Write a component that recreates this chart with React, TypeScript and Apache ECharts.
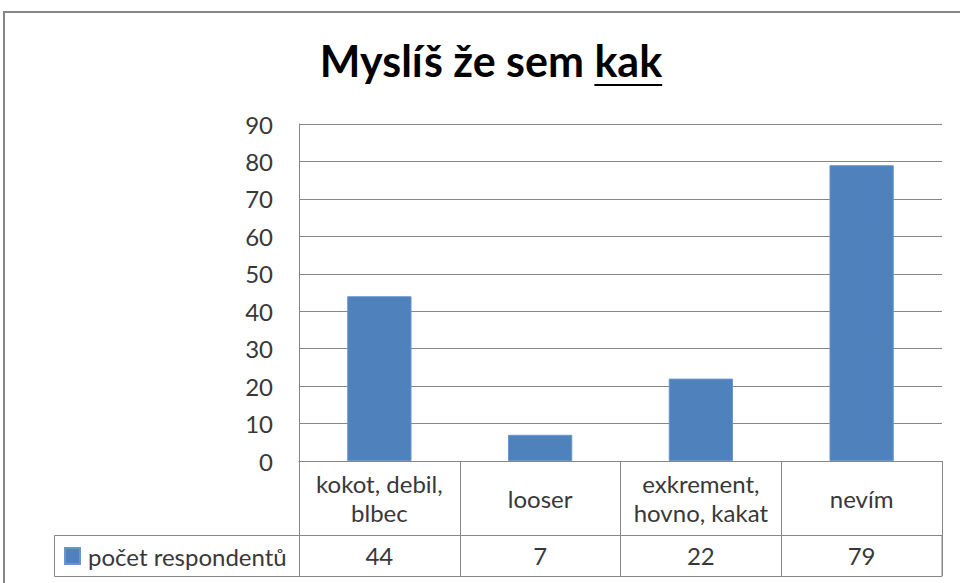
import React, { useEffect, useRef } from "react";
import * as echarts from "echarts";

const categories = ["kokot, debil,\nblbec", "looser", "exkrement,\nhovno, kakat", "nevím"];
const values = [44, 7, 22, 79];
const seriesName = "počet respondentů";
const titleMain = "Myslíš že sem ";
const titleUnderlined = "kak";
const yMin = 0;
const yMax = 90;
const yStep = 10;

const FONT = "Lato";
const GRAY = "#868686";
const TEXT = "#383838";
const FS = 24;

export default function App() {
  const ref = useRef<HTMLDivElement>(null);
  useEffect(() => {
    document.body.style.margin = "0";
    if (!ref.current) return;
    const chart = echarts.init(ref.current, undefined, { renderer: "svg" });

    const titleFontSize = 43;
    const titleCenter = 491;
    const titleTop = 39;
    const ctx = document.createElement("canvas").getContext("2d")!;
    ctx.font = `bold ${titleFontSize}px ${FONT}`;
    const fullW = ctx.measureText(titleMain + titleUnderlined).width;
    const uW = ctx.measureText(titleUnderlined).width;
    const uRight = titleCenter + fullW / 2;
    const uLeft = uRight - uW;

    const catData = categories.map((c) => ({
      value: c,
      textStyle: {
        verticalAlign: "middle",
        fontFamily: FONT,
        fontSize: FS,
        lineHeight: 29,
        color: TEXT,
        padding: c.includes("\n") ? [14, 0, 0, 0] : [0, 0, 0, 0],
      },
    }));

    chart.setOption({
      animation: false,
      backgroundColor: "#ffffff",
      textStyle: { fontFamily: FONT },
      title: {
        text: titleMain + titleUnderlined,
        left: titleCenter,
        top: titleTop,
        textAlign: "center",
        padding: 0,
        textStyle: { fontFamily: FONT, fontSize: titleFontSize, fontWeight: "bold", color: "#000" },
      },
      legend: {
        left: 64,
        top: 544,
        padding: 0,
        icon: "rect",
        itemWidth: 15,
        itemHeight: 16,
        textStyle: { fontFamily: FONT, fontSize: FS, color: TEXT, padding: [0, 0, 0, 3] },
        data: [seriesName],
      },
      grid: { left: 299, right: 18, top: 124, bottom: 122, containLabel: false },
      xAxis: [
        {
          type: "category",
          data: catData,
          axisLine: { show: true, lineStyle: { color: GRAY, width: 1 } },
          axisTick: { show: true, alignWithLabel: false, length: 115, lineStyle: { color: GRAY } },
          axisLabel: {
            interval: 0,
            margin: 37,
            verticalAlign: "middle",
            fontFamily: FONT,
            fontSize: FS,
            lineHeight: 29,
            color: TEXT,
          },
        },
        {
          type: "category",
          position: "bottom",
          offset: 74,
          data: values.map(String),
          axisLine: { show: false },
          axisTick: { show: false },
          axisLabel: {
            interval: 0,
            margin: 20,
            verticalAlign: "middle",
            fontFamily: FONT,
            fontSize: FS,
            color: TEXT,
          },
        },
      ],
      yAxis: {
        type: "value",
        min: yMin,
        max: yMax,
        interval: yStep,
        axisLine: { show: true, lineStyle: { color: GRAY } },
        axisTick: { show: false },
        splitLine: { show: true, lineStyle: { color: GRAY } },
        axisLabel: { margin: 26, fontFamily: FONT, fontSize: FS, color: TEXT },
      },
      series: [
        {
          name: seriesName,
          type: "bar",
          data: values,
          barWidth: "40%",
          itemStyle: { color: "#4F81BD", borderColor: "#6a96cb", borderWidth: 1 },
        },
      ],
      graphic: [
        {
          type: "rect",
          shape: { x: 4, y: 12, width: 1000, height: 600 },
          style: { fill: "none", stroke: GRAY, lineWidth: 2 },
          silent: true,
        },
        {
          type: "rect",
          shape: { x: 54.5, y: 535.5, width: 887.5, height: 41 },
          style: { fill: "none", stroke: GRAY, lineWidth: 1 },
          silent: true,
        },
        {
          type: "line",
          shape: { x1: uLeft, y1: 85, x2: uRight, y2: 85 },
          style: { stroke: "#000", lineWidth: 2 },
          silent: true,
        },
      ],
    });
    return () => chart.dispose();
  }, []);
  return <div ref={ref} style={{ width: 960, height: 583 }} />;
}
